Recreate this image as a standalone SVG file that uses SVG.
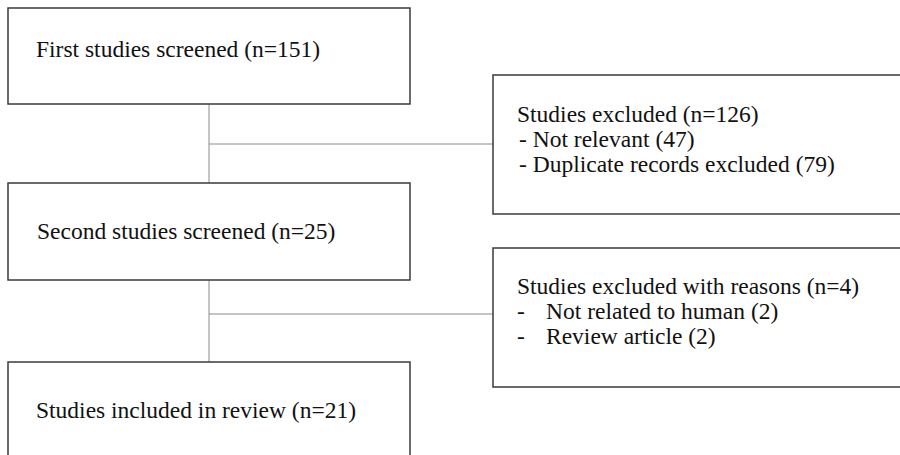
<svg xmlns="http://www.w3.org/2000/svg" width="900" height="455" viewBox="0 0 900 455">
<style>
.box{fill:#fff;stroke:#3a3a3a;stroke-width:1.5}
.conn{fill:none;stroke:#8a8a8a;stroke-width:1}
text{font-family:"Liberation Serif","Times New Roman",serif;font-size:23.5px;fill:#111}
</style>
<rect width="900" height="455" fill="#fff"/>
<g id="connectors">
<path class="conn" d="M209 104V183M209 144H493"/>
<path class="conn" d="M209 280V362M209 314H493"/>
</g>
<g id="first">
<rect class="box" x="8" y="8" width="402" height="96"/>
<text x="36" y="57">First studies screened (n=151)</text>
</g>
<g id="excluded1">
<rect class="box" x="493" y="75" width="415" height="139"/>
<text x="517" y="122">Studies excluded (n=126)</text>
<text x="519" y="147">- Not relevant (47)</text>
<text x="519" y="172">- Duplicate records excluded (79)</text>
</g>
<g id="second">
<rect class="box" x="8" y="183" width="402" height="97"/>
<text x="37" y="239">Second studies screened (n=25)</text>
</g>
<g id="excluded2">
<rect class="box" x="493" y="248" width="415" height="139"/>
<text x="517" y="294">Studies excluded with reasons (n=4)</text>
<text x="517" y="319">-</text>
<text x="546" y="319">Not related to human (2)</text>
<text x="517" y="344">-</text>
<text x="546" y="344">Review article (2)</text>
</g>
<g id="included">
<rect class="box" x="8" y="362" width="402" height="100"/>
<text x="36" y="418">Studies included in review (n=21)</text>
</g>
</svg>
